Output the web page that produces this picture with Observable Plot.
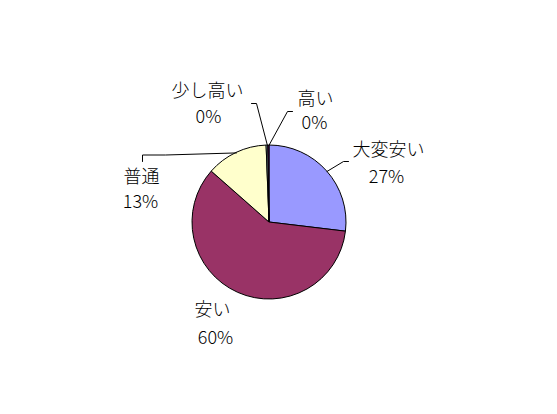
<!DOCTYPE html>
<html>
<head>
<meta charset="utf-8">
<script src="https://cdn.jsdelivr.net/npm/d3@7"></script>
<script src="https://cdn.jsdelivr.net/npm/@observablehq/plot@0.6"></script>
<style>
  html, body { margin: 0; padding: 0; background: #fff; }
  #chart { width: 557px; height: 414px; }
</style>
</head>
<body>
<div id="chart"></div>
<script>
// ---- data ----
const categories = ["大変安い", "安い", "普通", "少し高い", "高い"];
const shares = [26.9, 59.6, 12.9, 0.35, 0.25];
const sliceColors = ["#9999FF", "#993366", "#FFFFCC", "#CCFFFF", "#660066"];

// ---- layout (pixels in the 557x414 frame) ----
const W = 557, H = 414;
const CX = 269, CY = 222, R = 77;
const namePos = [[388, 150], [212, 310], [141, 177], [207, 91], [315, 99]];
const pctPos  = [[386, 177], [215, 338], [140, 202], [208, 117], [314, 123]];
const leaderBends = [
  [[343, 161], [348, 161]],
  [],
  [[165, 154.5], [142, 154.5], [142, 161]],
  [[256, 103], [251, 103]],
  [[287, 111], [292, 111]]
];

const toU = ([px, py]) => ({x: (px - CX) / R, y: (CY - py) / R});

const total = d3.sum(shares);
const table = categories.map((name, i) => ({name, value: shares[i], pct: Math.round(shares[i] / total * 100) + "%"}));

const arcs = d3.pie().sort(null).value(d => d.value)(table);

// labels
const labels = table.map((d, i) => ({...d, n: toU(namePos[i]), p: toU(pctPos[i])}));

// leader lines: start on the pie edge at each slice's mid-angle
const leaders = [];
arcs.forEach((a, i) => {
  const bends = leaderBends[i];
  if (!bends.length) return;
  const mid = (a.startAngle + a.endAngle) / 2;
  leaders.push({name: a.data.name, x: Math.sin(mid), y: Math.cos(mid)});
  bends.forEach(b => leaders.push({name: a.data.name, ...toU(b)}));
});

function pieSlices(index, scales) {
  const cx = scales.x(0), cy = scales.y(0), r = scales.x(1) - scales.x(0);
  const arc = d3.arc().innerRadius(0).outerRadius(r);
  const g = d3.create("svg:g").attr("transform", `translate(${cx},${cy})`);
  g.selectAll("path").data(arcs).join("path")
    .attr("d", arc)
    .attr("fill", d => scales.color(d.data.name))
    .attr("stroke", "#000")
    .attr("stroke-width", 1)
    .attr("stroke-linejoin", "round");
  return g.node();
}

const font = "'MS PGothic', 'Noto Sans CJK JP', sans-serif";

const chart = Plot.plot({
  width: W, height: H,
  margin: 0,
  x: {domain: [-CX / R, (W - CX) / R], range: [0, W], axis: null},
  y: {domain: [-(H - CY) / R, CY / R], range: [H, 0], axis: null},
  color: {domain: categories, range: sliceColors},
  style: {background: "#fff", fontFamily: font},
  marks: [
    pieSlices,
    Plot.line(leaders, {x: "x", y: "y", z: "name", stroke: "#000", strokeWidth: 1, curve: "linear"}),
    Plot.text(labels, {x: d => d.n.x, y: d => d.n.y, text: "name", fontSize: 18, fontWeight: 300, fill: "#000", fontFamily: font}),
    Plot.text(labels, {x: d => d.p.x, y: d => d.p.y, text: "pct", fontSize: 18, fontWeight: 300, fill: "#000", fontFamily: font})
  ]
});
document.getElementById("chart").appendChild(chart);
</script>
</body>
</html>
